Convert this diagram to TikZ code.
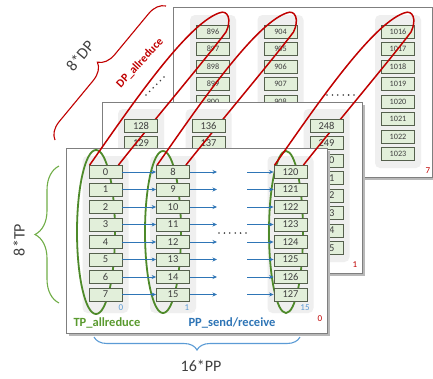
\documentclass[tikz,border=0pt]{standalone}
\usepackage{fontspec}
\setmainfont{Carlito}
\usetikzlibrary{decorations.pathreplacing,arrows.meta}
\definecolor{boxfill}{HTML}{E2EFDA}
\definecolor{boxline}{HTML}{55604D}
\definecolor{numtxt}{HTML}{3F3F3F}
\definecolor{colbgc}{HTML}{EFEFEF}
\definecolor{tpgreen}{HTML}{5A9A2F}
\definecolor{ellgreen}{HTML}{4E8A2A}
\definecolor{bracegreen}{HTML}{70AD47}
\definecolor{ppblue}{HTML}{2E75B6}
\definecolor{braceblue}{HTML}{5B9BD5}
\definecolor{dpred}{HTML}{C00000}
\definecolor{panelline}{HTML}{7F7F7F}
\definecolor{bigtxt}{HTML}{404040}
\tikzset{
  numbox/.style={draw=boxline, line width=0.8pt, fill=boxfill, minimum width=33pt, minimum height=13pt, inner sep=0pt, text=numtxt, font=\fontsize{10.5}{12}\selectfont},
  smallbox/.style={numbox, font=\fontsize{8.2}{10}\selectfont},
  panelst/.style={draw=panelline, fill=white, line width=0.8pt},
  shadowst/.style={fill=black!28},
  colbgst/.style={fill=colbgc, rounded corners=5pt},
  ellst/.style={draw=ellgreen, line width=1.8pt},
  redloop/.style={draw=dpred, line width=1.5pt},
  arr/.style={draw=ppblue, line width=0.9pt, -{Stealth[length=4.5pt,width=4pt]}},
  dotst/.style={fill=numtxt},
  panlabel/.style={text=dpred, font=\fontsize{9}{10}\selectfont, inner sep=0pt},
  collabel/.style={text=braceblue, font=\fontsize{9}{10}\selectfont, inner sep=0pt},
  bigt/.style={text=bigtxt, font=\fontsize{16}{18}\selectfont, inner sep=0pt},
  bracest/.style={decorate, line width=1.1pt},
}
\begin{document}
\begin{tikzpicture}[x=1pt,y=-1pt]
\useasboundingbox (0,0) rectangle (433,378);
% ---------- back panel (7)
\fill[shadowst] (175.5,9.5) rectangle (435,179.5);
\draw[panelst] (173,7) rectangle (432,177);
\foreach \cx/\base/\c in {213/896/a,280.5/904/b,398/1016/c}{
  \fill[colbgst] (\cx-23,15) rectangle (\cx+23,168);
  \foreach \i in {0,...,7}{
    \pgfmathtruncatemacro\n{\base+\i}
    \node[smallbox] (k\c\i) at (\cx,31.5+17.5*\i) {\n};
  }
}
\foreach \j in {0,...,5}{
  \fill[dotst] (327+5.4*\j,95) circle (0.9pt);
  \fill[dotst] (146+3.6*\j,95-3.6*\j) circle (0.9pt);
}
\node[panlabel] (lab7) at (428,171) {7};
% ---------- middle panel (1)
\fill[shadowst] (104.5,104.5) rectangle (364.5,275.5);
\draw[panelst] (102,102) rectangle (362,273);
\foreach \cx/\base/\c in {141/128/a,208.5/136/b,326.5/248/c}{
  \fill[colbgst] (\cx-23,109) rectangle (\cx+23,262);
  \foreach \i in {1,...,7}{
    \pgfmathtruncatemacro\n{\base+\i}
    \node[numbox] (m\c\i) at (\cx,125.5+17.5*\i) {\n};
  }
}
\node[panlabel] (lab1) at (355,265) {1};
% ---------- front panel (0)
\fill[shadowst] (68.5,150.5) rectangle (329.5,335.5);
\draw[panelst] (66,148) rectangle (327,333);
\foreach \cx in {105.5,173,290.5}{
  \fill[colbgst] (\cx-23,156) rectangle (\cx+23,313);
}
\draw[ellst] (96,232) ellipse [x radius=19pt, y radius=82pt];
\draw[ellst] (163,232) ellipse [x radius=18pt, y radius=81pt];
\draw[ellst] (286,232) ellipse [x radius=17pt, y radius=81pt];
\foreach \cx/\base/\c in {105.5/0/a,173/8/b,290.5/120/c}{
  \foreach \i in {0,...,7}{
    \pgfmathtruncatemacro\n{\base+\i}
    \node[numbox] (f\c\i) at (\cx,172+17.5*\i) {\n};
  }
}
\foreach \i in {0,...,7}{
  \coordinate (pe\i) at (217,172+17.5*\i);
  \coordinate (ps\i) at (247,172+17.5*\i);
  \draw[arr] (fa\i.east) -- (fb\i.west);
  \draw[arr] (fb\i.east) -- (pe\i);
  \draw[arr] (ps\i) -- (fc\i.west);
}
\foreach \j in {0,...,5}{
  \fill[dotst] (219+5.4*\j,233) circle (0.9pt);
}
\node[collabel] (c0) at (121,308) {0};
\node[collabel] (c1) at (187,308) {1};
\node[collabel] (c15) at (305,308) {15};
\node[panlabel] (lab0) at (320,319) {0};
\node[text=tpgreen, font=\fontsize{12.5}{14}\selectfont\bfseries, inner sep=0pt] (tpar) at (107,323) {TP\_allreduce};
\node[text=ppblue, font=\fontsize{12.5}{14}\selectfont\bfseries, inner sep=0pt] (ppsr) at (232,323) {PP\_send/receive};
% ---------- DP allreduce loops
\foreach \c/\dx in {a/0,b/67.5,c/185}{
  \draw[redloop] ([xshift=1pt]f\c0.north west) .. controls (125+\dx,115) and (185+\dx,25) .. (219+\dx,13)
    .. controls (228+\dx,9) and (232+\dx,20) .. (226+\dx,32)
    .. controls (205+\dx,60) and (150+\dx,125) .. ([xshift=-4pt]f\c0.north east);
}
\node[numbox] (ma0) at (141,125.5) {128};
\node[numbox] (mb0) at (208.5,125.5) {136};
\node[numbox] (mc0) at (326.5,125.5) {248};
% ---------- braces and labels
\draw[bracest, draw=bracegreen, decoration={brace, amplitude=24pt}] (59,303) -- (59,166);
\node[bigt, rotate=90] (tp) at (19,240) {8*TP};
\draw[bracest, draw=braceblue, decoration={brace, amplitude=13pt}] (300,337) -- (94,337);
\node[bigt] (pp) at (201,366) {16*PP};
\draw[bracest, draw=dpred, decoration={brace, amplitude=17pt}] (55,140) -- (166,6);
\node[bigt, rotate=50] (dp) at (80,56) {8*DP};
\node[text=dpred, font=\fontsize{11.5}{13}\selectfont\bfseries, inner sep=0pt, rotate=47] (dpar) at (140,63) {DP\_allreduce};
\end{tikzpicture}
\end{document}
